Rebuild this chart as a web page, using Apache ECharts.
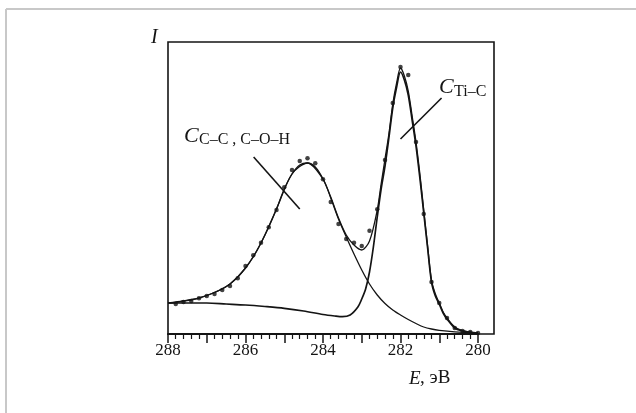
<!DOCTYPE html>
<html>
<head>
<meta charset="utf-8">
<script src="https://cdn.jsdelivr.net/npm/echarts@6/dist/echarts.min.js"></script>
<style>
  html, body { margin: 0; padding: 0; background: #fff; }
  #chart { width: 636px; height: 413px; }
</style>
</head>
<body>
<div id="chart"></div>
<script>
// энергия связи, эВ (ось идёт справа налево)
var xTicks = [288, 286, 284, 282, 280];

// экспериментальные точки
var dotE = [287.8, 287.6, 287.4, 287.2, 287.0, 286.8, 286.6, 286.4, 286.2, 286.0,
  285.8, 285.6, 285.4, 285.2, 285.0, 284.8, 284.6, 284.4, 284.2, 284.0,
  283.8, 283.6, 283.4, 283.2, 283.0, 282.8, 282.6, 282.4, 282.2, 282.0,
  281.8, 281.6, 281.4, 281.2, 281.0, 280.8, 280.6, 280.4, 280.2, 280.0];
var dotI = [30, 32, 33, 35.7, 38, 40, 44, 48, 55.7, 68,
  78.7, 91.3, 106.7, 124, 146.7, 164, 173, 175.7, 170.7, 154.7,
  132, 110, 95, 91.3, 88, 103.3, 124.7, 174, 231, 267,
  259, 192, 120, 52, 31, 16, 6, 3, 2, 1];

// огибающая
var envE = [288, 287.8, 287.6, 287.4, 287.2, 287.0, 286.8, 286.6, 286.4, 286.2,
  286.0, 285.8, 285.6, 285.4, 285.2, 285.0, 284.8, 284.6, 284.4, 284.2,
  284.0, 283.8, 283.6, 283.4, 283.2, 283.0, 282.8, 282.6, 282.5, 282.4,
  282.3, 282.2, 282.1, 282.0, 281.9, 281.8, 281.7, 281.6, 281.5, 281.4,
  281.3, 281.2, 281.1, 281.0, 280.9, 280.8, 280.6, 280.4, 280.2, 280.0];
var envI = [31, 31.5, 33, 34, 36, 38.5, 41.5, 45, 50, 57,
  66, 77, 91, 107, 125, 145, 160, 169, 171, 167,
  155, 137, 116, 99, 89, 84, 93, 124, 150, 175,
  200, 230, 251, 266, 258, 243, 218, 192, 160, 124,
  88, 54, 40, 31, 22, 16, 7, 3.5, 2, 1];

// компонента C–C, C–O–H
var ccE = [288, 287.6, 287.2, 286.8, 286.4, 286.0, 285.6, 285.2, 284.8, 284.4,
  284.0, 283.8, 283.6, 283.4, 283.2, 283.0, 282.8, 282.6, 282.4, 282.2,
  282.0, 281.8, 281.6, 281.4, 281.2, 281.0, 280.6, 280.0];
var ccI = [31, 33, 36, 41.5, 50, 66, 91, 125, 160, 171,
  155, 136, 115, 97, 80, 64, 50, 39, 30.5, 24,
  19, 14.5, 10.5, 7, 5, 3.7, 2.2, 1];

// компонента Ti–C
var ticE = [288, 287.5, 287.0, 286.5, 286.0, 285.5, 285.0, 284.5, 284.0, 283.7,
  283.5, 283.3, 283.1, 283.0, 282.9, 282.8, 282.7, 282.6, 282.5, 282.4,
  282.3, 282.2, 282.1, 282.0, 281.9, 281.8, 281.7, 281.6, 281.5, 281.4,
  281.3, 281.2, 281.1, 281.0, 280.9, 280.8, 280.6, 280.4, 280.2, 280.0];
var ticI = [31, 31, 31, 30, 29, 27.5, 25.7, 23, 19.5, 18,
  17.3, 19, 27, 35, 45, 62, 87, 117, 145, 168,
  196, 226, 247, 262, 254, 239, 214, 188, 156, 121,
  86, 52, 38, 30, 21, 15, 6, 3, 1.5, 0.5];

// выноски подписей
var leaderCC = [[285.79, 177], [284.60, 125]];
var leaderTiC = [[280.94, 236], [282.00, 195]];

function zip(xs, ys) {
  return xs.map(function (x, i) { return [x, ys[i]]; });
}

var serif = "'Liberation Serif', 'DejaVu Serif', serif";
var ink = '#141414';

var chart = echarts.init(document.getElementById('chart'));
var option = {
  animation: false,
  backgroundColor: '#fff',
  grid: [
    { left: 168, top: 42, right: 158, bottom: 79 },
    // рамка поля графика, чуть шире оси
    { left: 168, top: 42, right: 142, bottom: 79, show: true,
      borderColor: ink, borderWidth: 1.6, backgroundColor: 'transparent' }
  ],
  xAxis: [
    {
      gridIndex: 0,
      type: 'value',
      min: 280,
      max: 288,
      inverse: true,
      interval: 1,
      axisLine: { show: true, lineStyle: { color: ink, width: 2 } },
      axisTick: { show: true, length: 9, lineStyle: { color: ink, width: 1.5 } },
      minorTick: { show: true, splitNumber: 5, length: 5, lineStyle: { color: ink, width: 1.2 } },
      splitLine: { show: false },
      axisLabel: {
        margin: 8,
        fontFamily: serif,
        fontSize: 17,
        color: ink,
        formatter: function (v) {
          return xTicks.indexOf(v) >= 0 ? String(v) : '';
        }
      }
    },
    { gridIndex: 1, type: 'value', show: false, min: 0, max: 1 }
  ],
  yAxis: [
    { gridIndex: 0, type: 'value', show: false, min: 0, max: 292 },
    { gridIndex: 1, type: 'value', show: false, min: 0, max: 1 }
  ],
  graphic: [
    // серая рамка страницы
    { type: 'line', shape: { x1: 6, y1: 9, x2: 636, y2: 9 }, style: { stroke: '#c8c8c8', lineWidth: 2 } },
    { type: 'line', shape: { x1: 6, y1: 9, x2: 6, y2: 413 }, style: { stroke: '#c8c8c8', lineWidth: 2 } },
    { type: 'text', left: 151, top: 28, style: { text: 'I', font: 'italic 20px ' + serif, fill: ink } },
    { type: 'text', left: 409, top: 369, style: { text: 'E', font: 'italic 19px ' + serif, fill: ink } },
    { type: 'text', left: 420, top: 369, style: { text: ', эВ', font: '19px ' + serif, fill: ink } },
    { type: 'text', left: 184, top: 125, style: { text: 'C', font: 'italic 22px ' + serif, fill: ink } },
    { type: 'text', left: 199, top: 132, style: { text: 'C–C , C–O–H', font: '16px ' + serif, fill: ink } },
    { type: 'text', left: 439, top: 76, style: { text: 'C', font: 'italic 22px ' + serif, fill: ink } },
    { type: 'text', left: 454, top: 84, style: { text: 'Ti–C', font: '16px ' + serif, fill: ink } }
  ],
  series: [
    {
      name: 'C-C',
      type: 'line',
      smooth: 0.3,
      symbol: 'none',
      data: zip(ccE, ccI),
      lineStyle: { color: ink, width: 1.3 }
    },
    {
      name: 'Ti-C',
      type: 'line',
      smooth: 0.3,
      symbol: 'none',
      data: zip(ticE, ticI),
      lineStyle: { color: ink, width: 1.7 }
    },
    {
      name: 'envelope',
      type: 'line',
      smooth: 0.3,
      symbol: 'none',
      data: zip(envE, envI),
      lineStyle: { color: ink, width: 1.3 }
    },
    {
      name: 'points',
      type: 'scatter',
      symbolSize: 4.5,
      data: zip(dotE, dotI),
      itemStyle: { color: ink }
    },
    {
      type: 'line',
      symbol: 'none',
      data: leaderCC,
      lineStyle: { color: ink, width: 1.6 }
    },
    {
      type: 'line',
      symbol: 'none',
      data: leaderTiC,
      lineStyle: { color: ink, width: 1.6 }
    }
  ]
};
chart.setOption(option);
</script>
</body>
</html>
